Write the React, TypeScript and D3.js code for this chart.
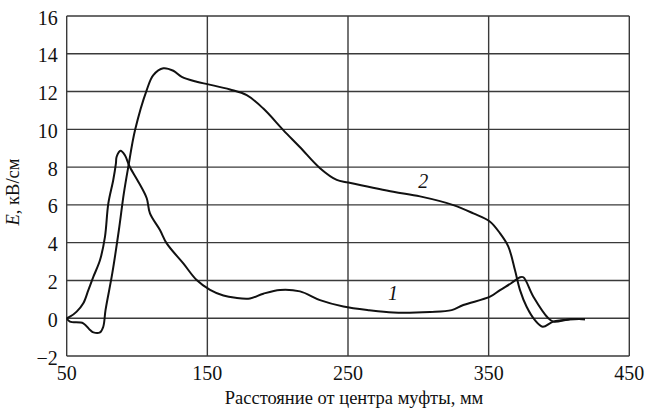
import React from "react";
import * as d3 from "d3";

// curve 1: x (mm), E (kV/cm)
const curve1X = [50, 52.3, 57.1, 61.8, 65.4, 69, 73.7, 77.2, 79.6, 83.1, 85, 85.5, 88.3, 91.3, 94.8, 100.9, 106.9, 109.2, 116.3, 121.1, 132.9, 142.4, 151.9, 161.4, 170, 180.3, 189.8, 201.7, 215.9, 230.1, 246.7, 265, 282.2, 308.3, 323.7, 332, 351, 358.1, 366, 372.3, 374.7, 381.8, 392.4, 396, 407.8, 418.5];
const curve1Y = [0, 0.08, 0.35, 0.79, 1.49, 2.2, 3.08, 4.31, 6.08, 7.32, 8.2, 8.55, 8.87, 8.64, 8.02, 7.23, 6.35, 5.55, 4.67, 3.96, 2.9, 2.02, 1.5, 1.2, 1.08, 1.05, 1.3, 1.5, 1.42, 0.96, 0.62, 0.42, 0.3, 0.33, 0.43, 0.7, 1.14, 1.49, 1.85, 2.17, 2.17, 1.14, 0.0, -0.18, -0.06, -0.05];

// curve 2
const curve2X = [50, 52.3, 61.8, 66.6, 69, 73.7, 76, 77.6, 82.4, 87.1, 90.6, 93.8, 98.6, 106.9, 111.6, 118.7, 125.8, 131.8, 142.4, 150.7, 166.1, 178, 189.8, 204, 215.9, 230.1, 242, 250.2, 282.2, 301.2, 324.9, 339.1, 351, 358.1, 364, 368.7, 372.3, 377, 382.9, 388.4, 395.9, 407.8, 418.5];
const curve2Y = [0, -0.18, -0.27, -0.62, -0.75, -0.75, -0.45, 0.43, 2.37, 4.67, 6.6, 8.02, 9.96, 12.08, 12.87, 13.23, 13.1, 12.78, 12.52, 12.38, 12.11, 11.81, 11.1, 9.96, 9.05, 7.94, 7.32, 7.19, 6.7, 6.45, 5.99, 5.55, 5.11, 4.49, 3.79, 2.55, 1.49, 0.61, -0.1, -0.45, -0.18, -0.06, -0.05];

const xTicks = [50, 150, 250, 350, 450];
const yTicks = [-2, 0, 2, 4, 6, 8, 10, 12, 14, 16];

const W = 646;
const H = 414;
const left = 66.7;
const right = 629.3;
const top = 16;
const bottom = 356;

export default function App() {
  const x = d3.scaleLinear().domain([50, 450]).range([left, right]);
  const y = d3.scaleLinear().domain([-2, 16]).range([bottom, top]);

  const line = d3
    .line<[number, number]>()
    .x((d) => x(d[0]))
    .y((d) => y(d[1]))
    .curve(d3.curveCatmullRom.alpha(0.5));

  const c1 = curve1X.map((v, i) => [v, curve1Y[i]] as [number, number]);
  const c2 = curve2X.map((v, i) => [v, curve2Y[i]] as [number, number]);

  const serif = { fontFamily: "'Liberation Serif', 'Times New Roman', serif" };
  const grid = "#3a3a3a";
  const ink = "#111";

  return (
    <svg
      width={W}
      height={H}
      style={{ position: "absolute", left: 0, top: 0, background: "#fff" }}
    >
      {/* horizontal grid */}
      {yTicks.map((t) => (
        <line key={"h" + t} x1={left} x2={right} y1={y(t)} y2={y(t)} stroke={grid} strokeWidth={1.4} />
      ))}
      {/* vertical grid */}
      {xTicks.map((t) => (
        <line key={"v" + t} x1={x(t)} x2={x(t)} y1={top} y2={bottom} stroke={grid} strokeWidth={1.4} />
      ))}

      <path d={line(c1) || ""} fill="none" stroke={ink} strokeWidth={2} strokeLinejoin="round" />
      <path d={line(c2) || ""} fill="none" stroke={ink} strokeWidth={2} strokeLinejoin="round" />

      {/* y tick labels */}
      {yTicks.map((t) => (
        <text key={"yl" + t} x={left - 9} y={y(t) + 8.5} textAnchor="end" fontSize={20} fill={ink} style={serif}>
          {t < 0 ? "\u2212" + Math.abs(t) : t}
        </text>
      ))}
      {/* x tick labels */}
      {xTicks.map((t) => (
        <text key={"xl" + t} x={x(t)} y={380} textAnchor="middle" fontSize={20} fill={ink} style={serif}>
          {t}
        </text>
      ))}

      <text x={354} y={404} textAnchor="middle" fontSize={18.5} fill={ink} style={serif}>
        Расстояние от центра муфты, мм
      </text>
      <text transform="translate(19,192) rotate(-90)" textAnchor="middle" fontSize={18.5} fill={ink} style={serif}>
        <tspan fontStyle="italic">E</tspan>, кВ/см
      </text>

      <text x={x(282)} y={y(0.95)} textAnchor="middle" fontSize={20} fontStyle="italic" fill={ink} style={serif}>
        1
      </text>
      <text x={x(303.5)} y={y(6.9)} textAnchor="middle" fontSize={20} fontStyle="italic" fill={ink} style={serif}>
        2
      </text>
    </svg>
  );
}
